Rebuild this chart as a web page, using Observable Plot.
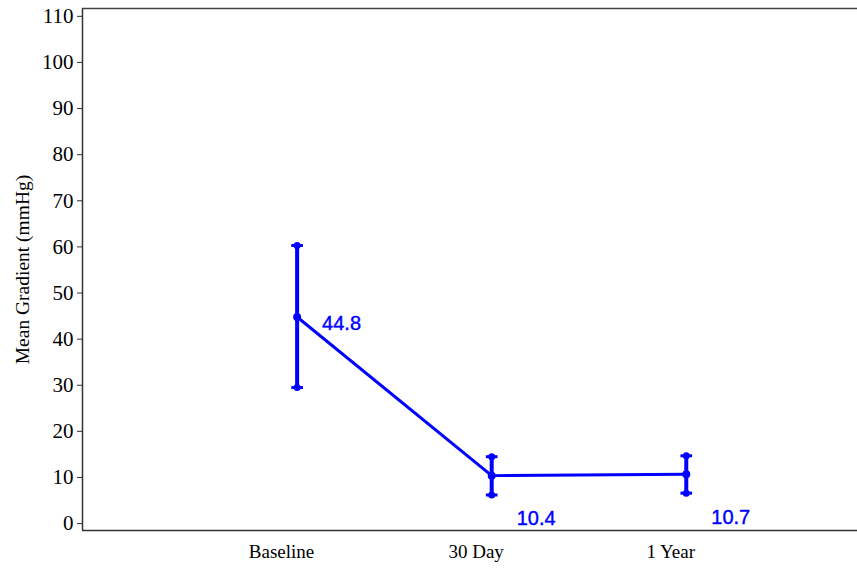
<!DOCTYPE html>
<html>
<head>
<meta charset="utf-8">
<script src="https://cdn.jsdelivr.net/npm/d3@7"></script>
<script src="https://cdn.jsdelivr.net/npm/@observablehq/plot@0.6"></script>
<style>
  html, body { margin: 0; padding: 0; background: #fff; }
  #chart svg { display: block; }
</style>
</head>
<body>
<div id="chart"></div>
<script>
const categories = ["Baseline", "30 Day", "1 Year"];
const means = [44.8, 10.4, 10.7];
const upper = [60.3, 14.5, 14.7];
const lower = [29.5, 6.2, 6.6];
const yTicks = [0, 10, 20, 30, 40, 50, 60, 70, 80, 90, 100, 110];

const data = categories.map((c, i) => ({ i, cat: c, mean: means[i], hi: upper[i], lo: lower[i] }));

const dodge = 0.08;      // position dodge of the series (in category units)
const capHalf = 0.03;    // half width of error bar caps
const blue = "#0000ff";
const px = d => d.i + dodge;

const chart = Plot.plot({
  width: 857,
  height: 568,
  marginLeft: 82,
  marginRight: 0,
  marginTop: 8,
  marginBottom: 38,
  style: { fontFamily: "'Liberation Serif', 'DejaVu Serif', serif", fontSize: "19px", color: "#000", background: "#fff" },
  x: { type: "linear", domain: [-1.023, 2.96] },
  y: { domain: [-1.5, 111.7] },
  marks: [
    Plot.axisY({
      ticks: yTicks, tickSize: 5, tickPadding: 4, fontSize: 21, stroke: "#333",
      label: null
    }),
    Plot.text(["Mean Gradient (mmHg)"], {
      frameAnchor: "left", textAnchor: "middle", dx: -60, rotate: -90, fontSize: 19.5, fill: "#000",
      fontFamily: "'Liberation Serif', serif"
    }),
    Plot.axisX({
      ticks: [0, 1, 2], tickFormat: i => categories[i], tickSize: 0, tickPadding: 14,
      fontSize: 19, label: null
    }),
    Plot.ruleX([-1.023], { stroke: "#333", strokeWidth: 1.5 }),
    Plot.ruleY([-1.5], { stroke: "#333", strokeWidth: 1.5 }),
    Plot.ruleY([111.7], { stroke: "#444", strokeWidth: 1.5 }),
    Plot.line(data, { x: px, y: "mean", stroke: blue, strokeWidth: 3 }),
    Plot.ruleX(data, { x: px, y1: "lo", y2: "hi", stroke: blue, strokeWidth: 4 }),
    Plot.link(data, { x1: d => px(d) - capHalf, x2: d => px(d) + capHalf, y1: "hi", y2: "hi", stroke: blue, strokeWidth: 3 }),
    Plot.link(data, { x1: d => px(d) - capHalf, x2: d => px(d) + capHalf, y1: "lo", y2: "lo", stroke: blue, strokeWidth: 3 }),
    Plot.dot(data, { x: px, y: "hi", r: 3.5, fill: blue }),
    Plot.dot(data, { x: px, y: "lo", r: 3.5, fill: blue }),
    Plot.dot(data, { x: px, y: "mean", r: 4, fill: blue }),
    Plot.text(data.filter(d => d.i === 0), {
      x: px, y: "mean", text: d => d.mean.toFixed(1), fill: blue, textAnchor: "start",
      dx: 25, dy: 7, fontSize: 20, fontFamily: "'Liberation Sans', Arial, sans-serif",
      stroke: blue, strokeWidth: 0.4
    }),
    Plot.text(data.filter(d => d.i > 0), {
      x: px, y: "mean", text: d => d.mean.toFixed(1), fill: blue, textAnchor: "start",
      dx: 25, dy: 43, fontSize: 20, fontFamily: "'Liberation Sans', Arial, sans-serif",
      stroke: blue, strokeWidth: 0.4
    })
  ]
});
document.getElementById("chart").append(chart);
</script>
</body>
</html>
